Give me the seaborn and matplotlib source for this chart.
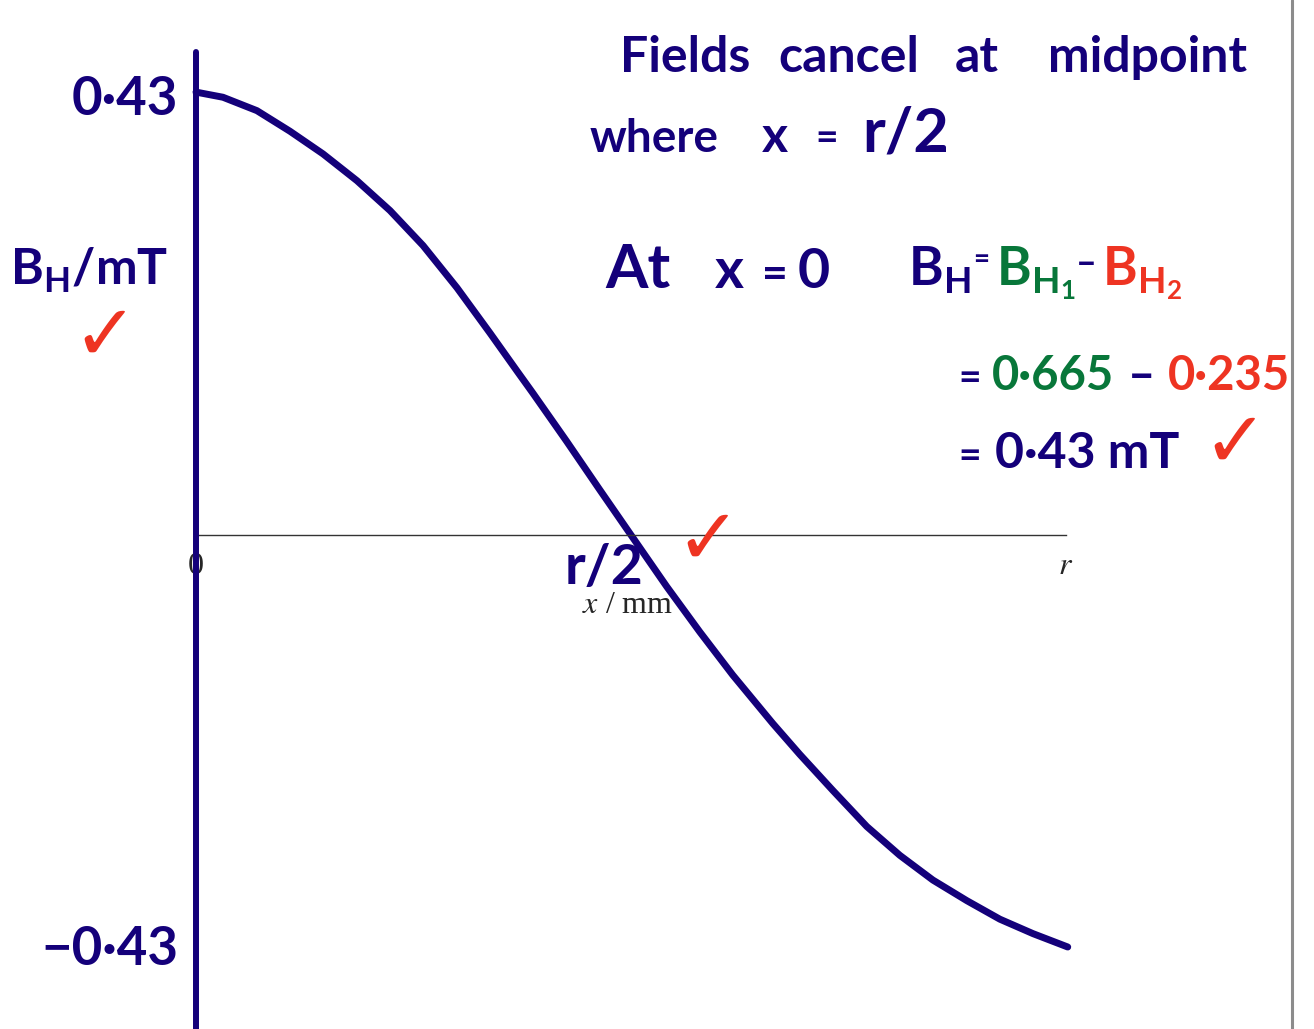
import matplotlib
matplotlib.use("Agg")
import matplotlib.pyplot as plt
from matplotlib.lines import Line2D
import seaborn as sns

# curve: x as a fraction of r, B_H in mT
x_pos = [0.000, 0.031, 0.070, 0.108, 0.146, 0.185, 0.223, 0.261, 0.300, 0.338,
         0.370, 0.387, 0.426, 0.464, 0.500, 0.541, 0.579, 0.617, 0.663, 0.694,
         0.732, 0.771, 0.809, 0.847, 0.886, 0.924, 0.962, 1.002]
b_field = [0.430, 0.425, 0.412, 0.392, 0.370, 0.344, 0.315, 0.281, 0.240, 0.196,
           0.158, 0.138, 0.091, 0.044, 0.000, -0.050, -0.094, -0.136, -0.183, -0.213,
           -0.248, -0.283, -0.311, -0.335, -0.355, -0.373, -0.387, -0.400]

x_ticks = [0, 0.5, 1]
x_tick_labels = ["0", "", "$r$"]

NAVY = "#14007a"
GREEN = "#08773a"
RED = "#ee3422"

W, H = 1314, 1029

sns.set_style("white")
plt.rcParams["font.family"] = ["Lato", "DejaVu Sans"]

fig = plt.figure(figsize=(W / 100, H / 100), dpi=100)
ax = fig.add_axes([0, 0, 1, 1])

# map data so that x=0 -> px 196, x=r -> px 1066, y=0 -> px 535
ax.set_xlim(-196 / 870, (W - 196) / 870)
ax.set_ylim(-(H - 535) / 1030, 535 / 1030)

sns.lineplot(x=x_pos, y=b_field, color=NAVY, linewidth=5, ax=ax)
ax.lines[-1].set_solid_capstyle("round")
ax.lines[-1].set_solid_joinstyle("round")

for s in ["top", "right"]:
    ax.spines[s].set_visible(False)
ax.spines["bottom"].set_position(("data", 0))
ax.spines["bottom"].set_bounds(0, 1)
ax.spines["bottom"].set_color("#333333")
ax.spines["bottom"].set_linewidth(1.0)
ax.spines["left"].set_position(("data", 0))
ax.spines["left"].set_bounds(-0.6, 0.469)
ax.spines["left"].set_color(NAVY)
ax.spines["left"].set_linewidth(4.3)
ax.spines["left"].set_capstyle("round")
ax.spines["left"].set_zorder(3)

ax.set_xticks(x_ticks)
ax.set_xticklabels(x_tick_labels)
ax.tick_params(axis="x", direction="inout", length=14, width=1.0, color="#333333",
               pad=5, labelsize=23)
for lab in ax.get_xticklabels():
    lab.set_fontfamily("Liberation Serif")
    lab.set_math_fontfamily("stix")
ax.set_yticks([])

fig.text(628 / W, 1 - 613 / H, "$x$ / mm", family="Liberation Serif", math_fontfamily="stix",
         fontsize=23, ha="center", va="baseline")


def hand(x, y, s, color=NAVY, size=34, ha="left", va="baseline"):
    fig.text(x / W, 1 - y / H, s, color=color, fontsize=size, ha=ha, va=va,
             fontweight="bold")


def tick_mark(x, y, size=56):
    fig.text(x / W, 1 - y / H, "\u2713", color=RED, fontsize=size, ha="center",
             va="center", family="DejaVu Sans", fontweight="bold")


# left side labels
hand(178, 115, "0·43", size=38, ha="right")
hand(178, 965, "\u22120·43", size=38, ha="right")
hand(10, 285, "B$_\\mathregular{H}$/mT", size=36)
tick_mark(105, 338)

# title lines
hand(620, 72, "Fields", size=36)
hand(778, 72, "cancel", size=36)
hand(955, 72, "at", size=36)
hand(1048, 72, "midpoint", size=36)
hand(590, 152, "where", size=33)
hand(762, 152, "x", size=36)
hand(815, 150, "=", size=28)
hand(862, 152, "r/2", size=44)

# at x = 0
hand(605, 288, "At", size=44)
hand(715, 288, "x", size=40)
hand(762, 288, "=", size=32)
hand(798, 288, "0", size=40)
hand(908, 285, "B$_\\mathregular{H}$", size=38)
hand(973, 268, "=", size=20)
hand(996, 285, "B$_\\mathregular{H_1}$", color=GREEN, size=38)
hand(1076, 274, "\u2013", size=26)
hand(1102, 285, "B$_\\mathregular{H_2}$", color=RED, size=38)

hand(958, 390, "=", size=28)
hand(992, 390, "0·665", color=GREEN, size=34)
hand(1128, 390, "\u2013", size=34)
hand(1168, 390, "0·235", color=RED, size=34)

hand(958, 468, "=", size=28)
hand(995, 468, "0·43 mT", size=36)
tick_mark(1235, 445)

# midpoint annotations
hand(604, 568, "r/2", size=40, ha="center", va="center")
tick_mark(708, 542)

fig.add_artist(Line2D([1292 / W, 1292 / W], [0, 1], color="#8c8c8c", linewidth=2.2))

fig.savefig("out.png", dpi=100)
